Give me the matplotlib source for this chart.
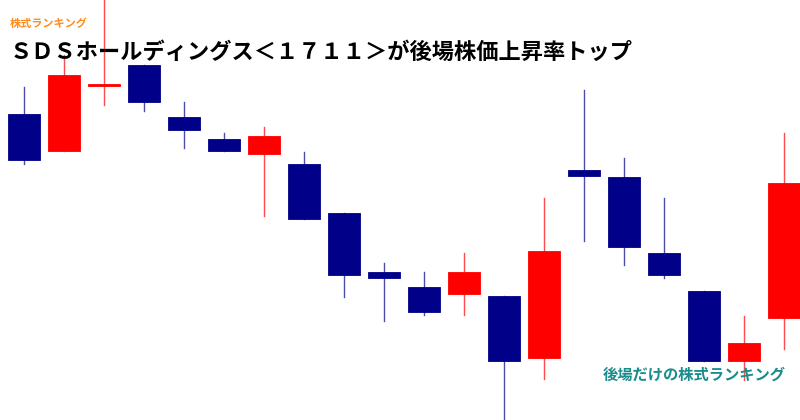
import matplotlib
matplotlib.use('Agg')
import matplotlib.pyplot as plt
from matplotlib.patches import Rectangle

plt.rcParams['font.family'] = ['Noto Sans CJK JP', 'DejaVu Sans']

# ローソク足 (値は画像から読み取り)
opens = [306, 269, 334, 355, 303, 281, 266, 256, 207, 148,
         133, 126, 124, 62, 250, 243, 167, 129, 59, 102]
closes = [260, 345, 336, 318, 290, 269, 284, 201, 145, 142,
          108, 148, 59, 169, 244, 173, 145, 59, 77, 237]
highs = [333, 365, 425, 355, 318, 287, 293, 268, 207, 157,
         148, 167, 124, 222, 330, 262, 222, 129, 104, 287]
lows = [256, 269, 315, 309, 272, 269, 204, 201, 123, 99,
        105, 105, -5, 41, 179, 155, 142, 59, 40, 71]

title = 'ＳＤＳホールディングス＜１７１１＞が後場株価上昇率トップ'
label_top = '株式ランキング'
label_bottom = '後場だけの株式ランキング'

UP = '#ff0000'
DOWN = '#000088'

fig = plt.figure(figsize=(8, 4.2), dpi=100)
ax = fig.add_axes([0, 0, 1, 1])
ax.set_xlim(-0.6, 19.4)
ax.set_ylim(0, 420)
ax.axis('off')

w = 0.8
for i, (o, c, h, l) in enumerate(zip(opens, closes, highs, lows)):
    col = UP if c >= o else DOWN
    ax.plot([i, i], [l, h], color=col, lw=1, alpha=0.7, zorder=1)
    ax.add_patch(Rectangle((i - w / 2, min(o, c)), w, abs(c - o),
                           facecolor=col, edgecolor=col, lw=0.6, zorder=2))

fig.text(10 / 800, 1 - 24 / 420, label_top, color='#ff8c1a', fontsize=8,
         fontweight='bold', va='center', ha='left')
fig.text(10 / 800, 1 - 52 / 420, title, color='black', fontsize=16,
         fontweight='bold', va='center', ha='left')
fig.text(603 / 800, 1 - 375 / 420, label_bottom, color='#1a8c8c', fontsize=11,
         fontweight='bold', va='center', ha='left')

fig.savefig('out.png', dpi=100, facecolor='white')
